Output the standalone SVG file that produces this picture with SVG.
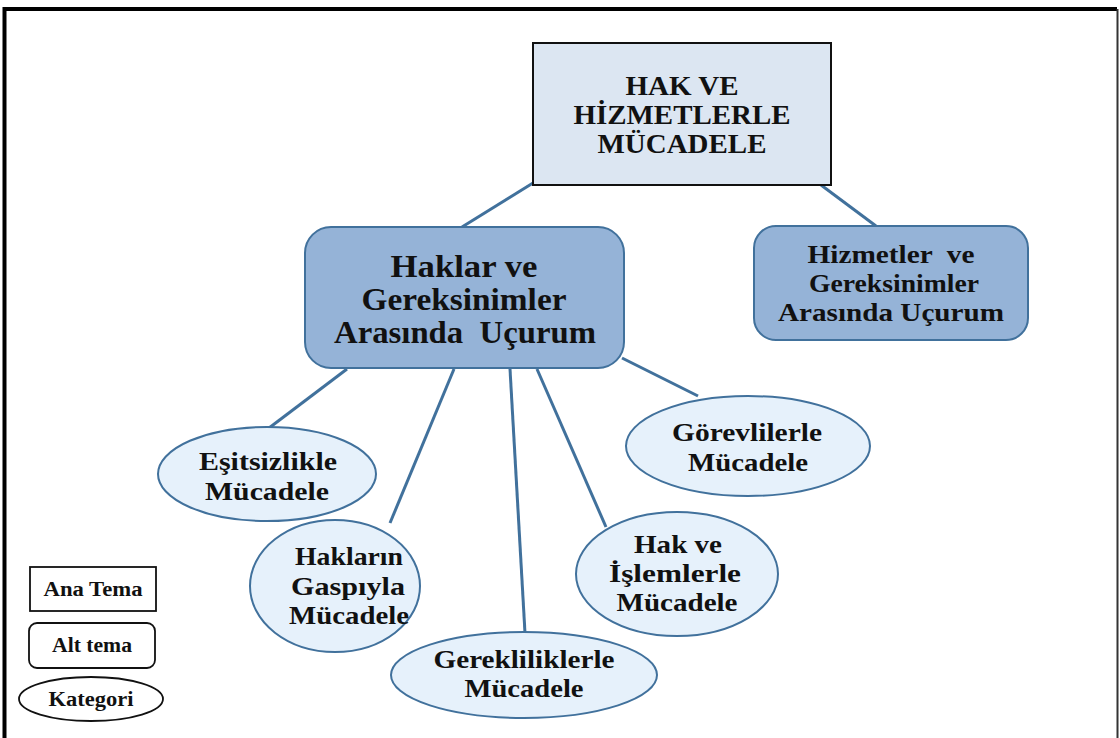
<svg xmlns="http://www.w3.org/2000/svg" width="1120" height="738" viewBox="0 0 1120 738">
  <style>
    text { font-family: "Liberation Serif", "Times New Roman", serif; font-weight: bold; fill: #111; text-anchor: middle; }
    .main { fill: #dce6f2; stroke: #111; stroke-width: 2; }
    .sub { fill: #95b3d7; stroke: #41719c; stroke-width: 2; }
    .cat { fill: #e6f1fb; stroke: #41719c; stroke-width: 2; }
    .leg { fill: #fff; stroke: #111; stroke-width: 1.8; }
    .link { stroke: #41719c; stroke-width: 3; fill: none; }
    .t-main { font-size: 28px; }
    .t-sub1 { font-size: 31px; }
    .t-sub2 { font-size: 25px; }
    .t-cat { font-size: 26px; }
    .t-leg { font-size: 20px; }
  </style>

  <rect width="1120" height="738" fill="#fff"/>
  <!-- page frame -->
  <path d="M4.5 738 V9 H1117" fill="none" stroke="#000" stroke-width="4"/>
  <path d="M1117.5 9 V738" fill="none" stroke="#333" stroke-width="2"/>

  <g id="connectors">
    <line class="link" x1="533" y1="183" x2="462" y2="227"/>
    <line class="link" x1="821" y1="185" x2="876" y2="226"/>
    <line class="link" x1="347" y1="369" x2="269" y2="428"/>
    <line class="link" x1="454" y1="369" x2="390" y2="523"/>
    <line class="link" x1="510" y1="369" x2="525" y2="633"/>
    <line class="link" x1="537" y1="369" x2="606" y2="527"/>
    <line class="link" x1="622" y1="358" x2="698" y2="396"/>
  </g>

  <g id="ana-tema">
    <rect class="main" x="533" y="43" width="298" height="142"/>
    <text class="t-main" x="682" y="95" textLength="113" lengthAdjust="spacingAndGlyphs">HAK VE</text>
    <text class="t-main" x="682" y="124" textLength="217" lengthAdjust="spacingAndGlyphs">HİZMETLERLE</text>
    <text class="t-main" x="682" y="153" textLength="169" lengthAdjust="spacingAndGlyphs">MÜCADELE</text>
  </g>

  <g id="alt-haklar">
    <rect class="sub" x="305" y="227" width="319" height="141" rx="26"/>
    <text class="t-sub1" x="464" y="277" textLength="147" lengthAdjust="spacingAndGlyphs">Haklar ve</text>
    <text class="t-sub1" x="464" y="310" textLength="205" lengthAdjust="spacingAndGlyphs">Gereksinimler</text>
    <text class="t-sub1" x="465" y="343" textLength="262" lengthAdjust="spacingAndGlyphs" xml:space="preserve">Arasında  Uçurum</text>
  </g>

  <g id="alt-hizmetler">
    <rect class="sub" x="754" y="226" width="274" height="114" rx="22"/>
    <text class="t-sub2" x="891" y="263" textLength="167" lengthAdjust="spacingAndGlyphs" xml:space="preserve">Hizmetler  ve</text>
    <text class="t-sub2" x="894" y="292" textLength="170" lengthAdjust="spacingAndGlyphs">Gereksinimler</text>
    <text class="t-sub2" x="891" y="321" textLength="226" lengthAdjust="spacingAndGlyphs">Arasında Uçurum</text>
  </g>

  <g id="kat-esitsizlik">
    <ellipse class="cat" cx="267" cy="474" rx="109" ry="47"/>
    <text class="t-cat" x="268" y="470" textLength="138" lengthAdjust="spacingAndGlyphs">Eşitsizlikle</text>
    <text class="t-cat" x="267" y="500" textLength="124" lengthAdjust="spacingAndGlyphs">Mücadele</text>
  </g>

  <g id="kat-gasp">
    <ellipse class="cat" cx="335" cy="586" rx="85" ry="66"/>
    <text class="t-cat" x="349" y="565" textLength="108" lengthAdjust="spacingAndGlyphs">Hakların</text>
    <text class="t-cat" x="348" y="595" textLength="114" lengthAdjust="spacingAndGlyphs">Gaspıyla</text>
    <text class="t-cat" x="349" y="624" textLength="120" lengthAdjust="spacingAndGlyphs">Mücadele</text>
  </g>

  <g id="kat-gereklilik">
    <ellipse class="cat" cx="524" cy="675" rx="133" ry="43"/>
    <text class="t-cat" x="524" y="668" textLength="181" lengthAdjust="spacingAndGlyphs">Gerekliliklerle</text>
    <text class="t-cat" x="524" y="697" textLength="119" lengthAdjust="spacingAndGlyphs">Mücadele</text>
  </g>

  <g id="kat-islem">
    <ellipse class="cat" cx="677" cy="574" rx="101" ry="62"/>
    <text class="t-cat" x="678" y="553" textLength="88" lengthAdjust="spacingAndGlyphs">Hak ve</text>
    <text class="t-cat" x="675" y="582" textLength="132" lengthAdjust="spacingAndGlyphs">İşlemlerle</text>
    <text class="t-cat" x="677" y="611" textLength="121" lengthAdjust="spacingAndGlyphs">Mücadele</text>
  </g>

  <g id="kat-gorevli">
    <ellipse class="cat" cx="748" cy="446" rx="122" ry="50"/>
    <text class="t-cat" x="747" y="441" textLength="150" lengthAdjust="spacingAndGlyphs">Görevlilerle</text>
    <text class="t-cat" x="748" y="471" textLength="120" lengthAdjust="spacingAndGlyphs">Mücadele</text>
  </g>

  <g id="legend">
    <g id="leg-ana">
      <rect class="leg" x="30" y="567" width="126" height="44"/>
      <text class="t-leg" x="93" y="596" textLength="99" lengthAdjust="spacingAndGlyphs">Ana Tema</text>
    </g>
    <g id="leg-alt">
      <rect class="leg" x="29" y="623" width="126" height="45" rx="8"/>
      <text class="t-leg" x="92" y="652" textLength="80" lengthAdjust="spacingAndGlyphs">Alt tema</text>
    </g>
    <g id="leg-kat">
      <ellipse class="leg" cx="91" cy="699" rx="72" ry="22"/>
      <text class="t-leg" x="91" y="706" textLength="85" lengthAdjust="spacingAndGlyphs">Kategori</text>
    </g>
  </g>
</svg>
